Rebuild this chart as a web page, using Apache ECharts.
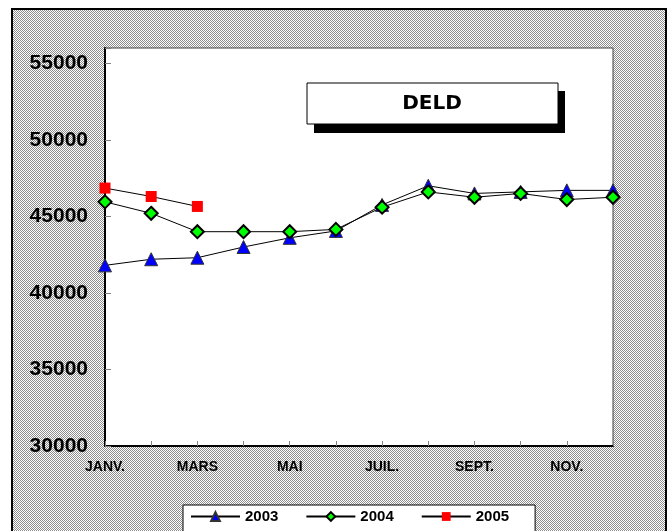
<!DOCTYPE html>
<html>
<head>
<meta charset="utf-8">
<script src="https://cdn.jsdelivr.net/npm/echarts@6/dist/echarts.min.js"></script>
<style>
  html, body { margin: 0; padding: 0; background: #fff; }
  #chart { width: 669px; height: 531px; }
</style>
</head>
<body>
<div id="chart"></div>
<script>
// data
var months = ['JANV.', 'FÉVR.', 'MARS', 'AVR.', 'MAI', 'JUIN', 'JUIL.', 'AOÛT', 'SEPT.', 'OCT.', 'NOV.', 'DÉC.'];
var y2003 = [41800, 42200, 42300, 43000, 43600, 44050, 45750, 47000, 46500, 46600, 46700, 46700];
var y2004 = [45950, 45200, 44000, 44000, 44000, 44150, 45600, 46600, 46250, 46500, 46100, 46250];
var y2005 = [46850, 46300, 45650];
var yTicks = [30000, 35000, 40000, 45000, 50000, 55000];
var titleText = 'DELD';

// petit motif gris tramé pour le fond
function hatch() {
  var c = document.createElement('canvas');
  c.width = 2; c.height = 2;
  var ctx = c.getContext('2d');
  ctx.fillStyle = '#ffffff';
  ctx.fillRect(0, 0, 2, 2);
  ctx.fillStyle = '#8c8c8c';
  ctx.fillRect(0, 0, 1, 1);
  ctx.fillRect(1, 1, 1, 1);
  return c;
}

var myChart = echarts.init(document.getElementById('chart'));

myChart.setOption({
  animation: false,
  backgroundColor: '#fff',
  graphic: [
    {
      type: 'rect', z: -10,
      shape: { x: 12, y: 9, width: 654, height: 540 },
      style: { fill: { image: hatch(), repeat: 'repeat' }, stroke: '#000', lineWidth: 2 }
    },
    {
      type: 'rect', z: 100,
      shape: { x: 314, y: 91, width: 251, height: 42 },
      style: { fill: '#000' }
    },
    {
      type: 'rect', z: 101,
      shape: { x: 307, y: 83, width: 251, height: 41 },
      style: { fill: '#fff', stroke: '#000', lineWidth: 1 }
    },
    {
      type: 'text', z: 102,
      x: 432, y: 104,
      style: {
        text: titleText,
        fill: '#000',
        font: 'bold 20px "DejaVu Sans"',
        textAlign: 'center',
        textVerticalAlign: 'middle'
      }
    }
  ],
  grid: {
    show: true,
    left: 105,
    right: 56,
    top: 48,
    bottom: 85,
    backgroundColor: '#fff',
    borderColor: '#444',
    borderWidth: 1
  },
  legend: {
    data: ['2003', '2004', '2005'],
    left: 183,
    top: 505,
    itemWidth: 49,
    itemHeight: 11,
    itemGap: 27,
    padding: [4, 26, 20, 7],
    backgroundColor: '#fff',
    borderColor: '#000',
    borderWidth: 1,
    textStyle: {
      fontFamily: 'Liberation Sans',
      fontSize: 15,
      fontWeight: 'bold',
      color: '#000'
    }
  },
  xAxis: {
    type: 'category',
    data: months,
    boundaryGap: false,
    axisLine: { lineStyle: { color: '#000', width: 2 } },
    axisTick: { inside: true, length: 5, interval: 0, lineStyle: { color: '#808080' } },
    axisLabel: {
      interval: 1,
      margin: 14,
      fontFamily: 'Liberation Sans',
      fontSize: 14,
      fontWeight: 'bold',
      color: '#000'
    },
    splitLine: { show: false }
  },
  yAxis: {
    type: 'value',
    min: yTicks[0],
    max: 56000,
    interval: 5000,
    axisLine: { show: true, lineStyle: { color: '#000', width: 2 } },
    axisTick: { show: true, inside: true, length: 6, lineStyle: { color: '#808080' } },
    axisLabel: {
      margin: 17,
      fontFamily: 'Liberation Sans',
      fontSize: 21,
      fontWeight: 'bold',
      color: '#000',
      formatter: function (v) {
        return yTicks.indexOf(v) >= 0 ? String(v) : '';
      }
    },
    splitLine: { show: false }
  },
  series: [
    {
      name: '2003',
      type: 'line',
      data: y2003,
      symbol: 'triangle',
      symbolSize: 13,
      showAllSymbol: true,
      lineStyle: { color: '#000', width: 1 },
      itemStyle: { color: '#0000ff', borderColor: '#333', borderWidth: 1 },
      z: 2
    },
    {
      name: '2004',
      type: 'line',
      data: y2004,
      symbol: 'diamond',
      symbolSize: 13,
      showAllSymbol: true,
      lineStyle: { color: '#000', width: 1 },
      itemStyle: { color: '#00ff00', borderColor: '#000', borderWidth: 2 },
      z: 3
    },
    {
      name: '2005',
      type: 'line',
      data: y2005,
      symbol: 'rect',
      symbolSize: 11,
      showAllSymbol: true,
      lineStyle: { color: '#000', width: 1 },
      itemStyle: { color: '#ff0000', borderWidth: 0 },
      z: 4
    }
  ]
});
window.onresize = myChart.resize;
</script>
</body>
</html>
